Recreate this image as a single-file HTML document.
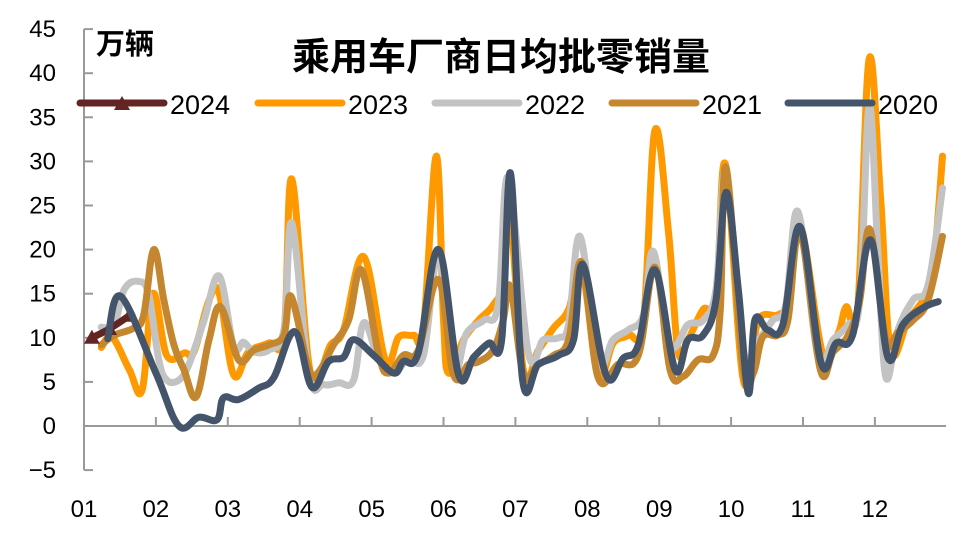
<!DOCTYPE html>
<html><head><meta charset="utf-8"><style>
body{margin:0;background:#fff;}
svg text{font-family:"Liberation Sans","Noto Sans CJK SC",sans-serif;}
</style></head><body>
<svg id="chart" width="970" height="532" viewBox="0 0 970 532" xmlns="http://www.w3.org/2000/svg">
<text x="501" y="70" text-anchor="middle" font-size="38" font-weight="bold" fill="#000">乘用车厂商日均批零销量</text>
<text x="96" y="54" font-size="29" font-weight="bold" fill="#000">万辆</text>
<g id="axes"></g>
<g id="series"></g>
<g id="legend"></g>
</svg>
<script>
const yTicks=[-5,0,5,10,15,20,25,30,35,40,45];
const monthLabels=["01","02","03","04","05","06","07","08","09","10","11","12"];
const seriesNames=["2024","2023","2022","2021","2020"];
// x positions in months since Jan 1 (data dates), values in 万辆
const m2024=[0.11,0.35,0.63];
const v2024=[10,11,12.5];
const m2023=[0.24,0.39,0.63,0.81,0.96,1.15,1.4,1.53,1.74,1.88,2.08,2.29,2.57,2.78,2.89,3.15,3.43,3.61,3.89,4.19,4.38,4.58,4.72,4.9,5.0,5.07,5.28,5.49,5.69,5.83,5.9,6.11,6.32,6.53,6.74,6.92,7.15,7.36,7.57,7.78,7.94,8.13,8.26,8.4,8.61,8.79,8.92,9.17,9.38,9.65,9.79,9.96,10.28,10.49,10.6,10.76,10.92,11.08,11.22,11.46,11.67,11.81,11.94];
const v2023=[8.9,10.1,6.4,4.1,15,8,8.3,8.4,14.3,15,5.8,8.4,9.4,10.3,28,6,9.2,10.9,19.2,7.5,10.1,10.3,11.1,30.6,12,6,9.8,12,13.7,16.6,27,6.4,8.6,11.1,13.2,18,5.8,9.4,10.3,12,33.5,22,8.6,9.8,13.2,14.3,29.7,5.2,12,12.6,14.3,22.8,8,10.5,13.5,13.2,41.6,25.7,8.6,12,14.3,17.7,30.6];
const m2022=[0.24,0.42,0.56,0.76,0.90,1.04,1.15,1.32,1.46,1.67,1.88,2.08,2.22,2.36,2.57,2.78,2.89,3.13,3.33,3.54,3.75,3.89,4.1,4.31,4.51,4.72,4.93,5.14,5.32,5.56,5.76,5.90,6.18,6.39,6.6,6.74,6.90,7.15,7.36,7.57,7.78,7.92,8.15,8.4,8.61,8.79,8.93,9.17,9.38,9.58,9.76,9.93,10.21,10.42,10.63,10.79,10.92,11.04,11.15,11.32,11.53,11.74,11.94];
const v2022=[11.2,11.5,15.5,16.4,14.9,7.5,5.2,5.2,7,12,17,9,9.5,8.4,8.6,10.9,23,5.8,4.7,4.9,5.2,11.7,7.5,6,7.7,8,19.4,6.4,10.5,12,13.7,28.2,8.3,9.8,10,11.5,21.5,7.3,9.8,10.9,12.6,19.8,9.2,11.5,12,15.5,29,8.6,9.8,12,13.7,24.3,7.8,9.8,11.5,14.3,36.3,20,5.6,10.9,14.3,16,27];
const m2021=[0.24,0.42,0.69,0.83,0.97,1.11,1.25,1.39,1.56,1.74,1.90,2.15,2.36,2.57,2.78,2.88,3.13,3.26,3.47,3.68,3.86,4.1,4.24,4.44,4.65,4.93,5.14,5.35,5.49,5.69,5.83,5.93,6.11,6.32,6.53,6.74,6.92,7.15,7.43,7.71,7.94,8.15,8.33,8.54,8.75,8.85,8.93,9.17,9.31,9.44,9.65,9.79,9.96,10.24,10.42,10.63,10.79,10.93,11.15,11.32,11.53,11.74,11.94];
const v2021=[9.2,10.3,11.1,12.6,20,14.3,9.2,6.4,3.3,9.8,13.5,7.5,8.6,9.2,10.3,14.7,6.4,6.1,9.2,12,17.7,8,6,8,8.6,16.6,5.8,7,7.3,8.6,12,15.8,6,7,8,9.8,18.6,5.5,7,8,18,6.4,5.6,7.5,8,13.2,29.3,6.4,6,10.1,10.3,12,22,6.4,8.4,10.3,14.3,22.3,9.8,10.6,12,14.3,21.5];
const m2020=[0.33,0.51,1.0,1.32,1.6,1.85,1.94,2.15,2.43,2.64,2.93,3.17,3.4,3.61,3.75,4.03,4.31,4.44,4.65,4.93,5.21,5.42,5.63,5.81,5.93,6.1,6.32,6.6,6.81,6.94,7.26,7.5,7.71,7.94,8.22,8.4,8.61,8.79,8.93,9.1,9.24,9.33,9.51,9.72,9.96,10.25,10.46,10.69,10.94,11.18,11.39,11.67,11.88];
const v2020=[9.9,14.7,6,0,1,0.7,3.2,3,4.3,5.5,10.7,4.4,7.3,7.8,9.8,8,6,7.3,8.3,20,5.8,7.8,9.4,9.8,28.7,5.2,7,8,9.8,18.3,5.8,7.7,9.2,17.7,6.4,9.8,10.3,14.3,26.5,15.5,3.7,12,10.9,11.5,22.6,7.2,9.4,10.3,21.1,7.8,11.5,13.4,14.1];

const X0=84,MW=71.9,Y0=426,KY=8.82;
const xs=m=>X0+m*MW;
const ys=v=>Y0-v*KY;
const NS="http://www.w3.org/2000/svg";
function mk(tag,attrs,parent){const e=document.createElementNS(NS,tag);for(const k in attrs)e.setAttribute(k,attrs[k]);parent.appendChild(e);return e;}
const axes=document.getElementById('axes');
const yax=mk('line',{x1:X0,y1:ys(45),x2:X0,y2:ys(-5),stroke:'#999','stroke-width':2},axes);


const xax=mk('line',{x1:X0,y1:Y0,x2:946,y2:Y0,stroke:'#999','stroke-width':2},axes);


yTicks.forEach(t=>{
  const tk=mk('line',{x1:X0,y1:ys(t),x2:X0+9,y2:ys(t),stroke:'#999','stroke-width':2},axes);
  
  
  const tx=mk('text',{x:56,y:ys(t)+8,'text-anchor':'end','font-size':24,fill:'#000'},axes);
  
  
  tx.textContent=t<0?'\u2212'+(-t):String(t);
});
monthLabels.forEach((l,i)=>{
  const x=xs(i);
  if(i>0){const tk=mk('line',{x1:x,y1:Y0,x2:x,y2:Y0-9,stroke:'#999','stroke-width':2},axes);
  
  }
  const tx=mk('text',{x:x,y:517,'text-anchor':'middle','font-size':24,fill:'#000'},axes);
  
  
  tx.textContent=l;
});
function smooth(ms,vs){
  const p=ms.map((m,i)=>[xs(m),ys(vs[i])]);
  let d='M'+p[0][0].toFixed(1)+' '+p[0][1].toFixed(1);
  for(let i=0;i<p.length-1;i++){
    const a=p[i-1]||p[i],b=p[i],c=p[i+1],e=p[i+2]||c;
    const t=0.18;
    const c1=[b[0]+(c[0]-a[0])*t,b[1]+(c[1]-a[1])*t];
    const c2=[c[0]-(e[0]-b[0])*t,c[1]-(e[1]-b[1])*t];
    d+=` C${c1[0].toFixed(1)} ${c1[1].toFixed(1)} ${c2[0].toFixed(1)} ${c2[1].toFixed(1)} ${c[0].toFixed(1)} ${c[1].toFixed(1)}`;
  }
  return d;
}
const colors={"2024":"#632523","2023":"#FF9900","2022":"#C3C3C3","2021":"#C4872F","2020":"#44546A"};
const data={"2024":[m2024,v2024],"2023":[m2023,v2023],"2022":[m2022,v2022],"2021":[m2021,v2021],"2020":[m2020,v2020]};
const sg=document.getElementById('series');
["2023","2022","2021","2024","2020"].forEach(n=>{
  const [ms,vs]=data[n];
  const path=mk('path',{d:smooth(ms,vs),fill:'none',stroke:colors[n],'stroke-width':7,'stroke-linejoin':'round','stroke-linecap':'round'},sg);
  
  
  if(n==="2024"){
    ms.forEach((m,i)=>{
      const x=xs(m),y=ys(vs[i]);
      const tri=mk('polygon',{points:`${x-8},${y+6} ${x+8},${y+6} ${x},${y-8}`,fill:colors[n]},sg);
      
      
    });
  }
});
const lg=document.getElementById('legend');
const lx=[80,258,435,612,788];
seriesNames.forEach((n,i)=>{
  const g=mk('g',{},lg);
  
  
  mk('line',{x1:lx[i],y1:103,x2:lx[i]+84,y2:103,stroke:colors[n],'stroke-width':7,'stroke-linecap':'round'},g);
  if(n==="2024"){mk('polygon',{points:`${lx[i]+34},110 ${lx[i]+50},110 ${lx[i]+42},96`,fill:colors[n]},g);}
  const t=mk('text',{x:lx[i]+90,y:114,'font-size':27,fill:'#000'},g);
  t.textContent=n;
});
</script>
</body></html>
